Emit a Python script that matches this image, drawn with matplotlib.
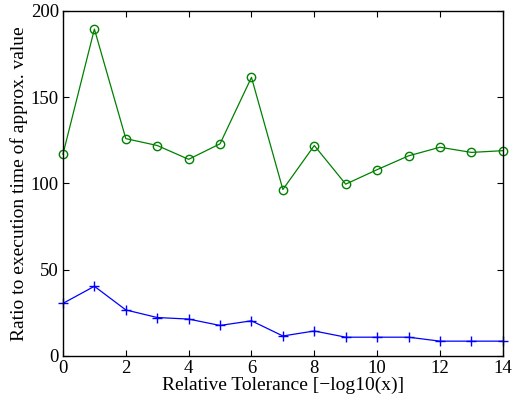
import matplotlib
matplotlib.use("Agg")
import matplotlib.pyplot as plt

plt.rcParams["font.family"] = ["Liberation Serif", "DejaVu Serif"]

tolerance = list(range(15))
ratio_green = [117, 189.5, 126, 122, 114, 123, 161.5, 96.5, 122, 99.6, 108, 116, 121, 118, 119]
ratio_blue = [30.5, 40.4, 26.7, 22.3, 21.4, 17.7, 20.4, 11.6, 14.5, 10.9, 10.9, 10.9, 8.6, 8.6, 8.6]
xticks = list(range(0, 15, 2))
yticks = [0, 50, 100, 150, 200]

fig = plt.figure(figsize=(5.12, 4.05), dpi=100)
ax = fig.add_axes([0.123, 0.121, 0.859, 0.852])

ax.plot(tolerance, ratio_green, color=(0, 0.5, 0), marker="o", markersize=6,
        markerfacecolor="none", linewidth=0.9, clip_on=False)
ax.plot(tolerance, ratio_blue, color=(0, 0, 1), marker="+", markersize=7,
        linewidth=0.9, clip_on=False)

ax.set_xlim(0, 14)
ax.set_ylim(0, 200)
ax.set_xticks(xticks)
ax.set_yticks(yticks)
for s in ax.spines.values():
    s.set_linewidth(1.0)
ax.tick_params(direction="in", top=True, right=True, labelsize=13.5, length=4, pad=3)
ax.set_xlabel("Relative Tolerance [\u2212log10(x)]", fontsize=14, labelpad=0)
ax.set_ylabel("Ratio to execution time of approx. value", fontsize=14, labelpad=2)

fig.savefig("out.png", dpi=100)
